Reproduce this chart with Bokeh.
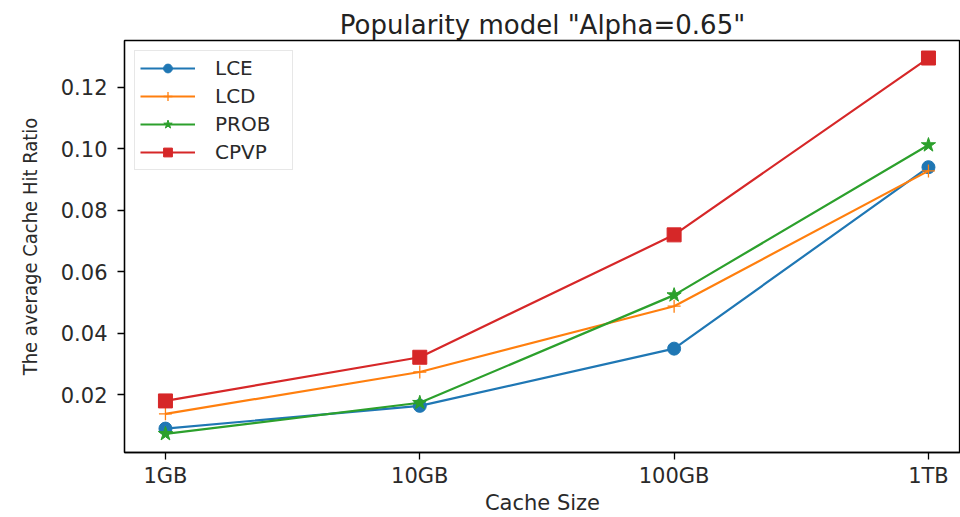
from bokeh.plotting import figure
from bokeh.models import Range1d, FixedTicker, Legend, LegendItem
from bokeh.embed import file_html
from bokeh.resources import INLINE

categories = ["1GB", "10GB", "100GB", "1TB"]
lce = [0.0090, 0.0164, 0.0350, 0.0940]
lcd = [0.0138, 0.0274, 0.0488, 0.0928]
prob = [0.0073, 0.0174, 0.0524, 0.1012]
cpvp = [0.0180, 0.0322, 0.0720, 0.1295]
y_ticks = [0.02, 0.04, 0.06, 0.08, 0.10, 0.12]

xs = list(range(len(categories)))

p = figure(width=960, height=517, output_backend="svg", toolbar_location=None,
           x_range=Range1d(-0.161, 3.126), y_range=Range1d(0.00123, 0.1352),
           min_border_left=124, min_border_right=0, min_border_top=40, min_border_bottom=63)

p.title.text = 'Popularity model "Alpha=0.65"'
p.title.align = "center"
p.title.text_font = "DejaVu Sans"
p.title.text_font_size = "26px"
p.title.text_font_style = "normal"
p.title.text_color = "#222222"
p.title.standoff = 2

p.xgrid.visible = False
p.ygrid.visible = False
p.outline_line_color = "black"
p.outline_line_width = 1.3

p.xaxis.ticker = FixedTicker(ticks=xs)
p.xaxis.major_label_overrides = {i: c for i, c in enumerate(categories)}
p.yaxis.ticker = FixedTicker(ticks=y_ticks)
p.yaxis.major_label_overrides = {t: f"{t:.2f}" for t in y_ticks}
for ax in (p.xaxis[0], p.yaxis[0]):
    ax.minor_tick_line_color = None
    ax.major_tick_in = 0
    ax.major_tick_out = 7
    ax.major_tick_line_width = 1.3
    ax.major_label_text_font = "DejaVu Sans"
    ax.major_label_text_font_size = "21px"
    ax.major_label_text_color = "#2a2a2a"
    ax.axis_line_color = "black"
    ax.axis_line_width = 1.3
    ax.axis_label_text_font_style = "normal"
    ax.axis_label_text_color = "#2a2a2a"
p.yaxis.major_label_standoff = 10
p.xaxis.major_label_standoff = 4

p.xaxis.axis_label = "Cache Size"
p.xaxis.axis_label_text_font = "DejaVu Sans"
p.xaxis.axis_label_text_font_size = "21px"
p.xaxis.axis_label_standoff = 0
p.yaxis.axis_label = "The average Cache Hit Ratio"
p.yaxis.axis_label_text_font = "DejaVu Sans Condensed"
p.yaxis.axis_label_text_font_size = "20px"
p.yaxis.axis_label_standoff = 16

series = [
    ("LCE", lce, "#1f77b4", "circle", 13),
    ("LCD", lcd, "#ff7f0e", "cross", 13),
    ("PROB", prob, "#2ca02c", "star", 15),
    ("CPVP", cpvp, "#d62728", "square", 14),
]
items = []
for name, ys, color, marker, size in series:
    l = p.line(xs, ys, line_color=color, line_width=2.2)
    if marker == "cross":
        s = p.scatter(xs, ys, marker=marker, size=size, line_color=color, line_width=1.3)
    else:
        s = p.scatter(xs, ys, marker=marker, size=size, fill_color=color, line_color=color)
    items.append(LegendItem(label=name, renderers=[l, s]))

legend = Legend(items=items, location="top_left")
legend.label_text_font = "DejaVu Sans"
legend.label_text_font_size = "20px"
legend.label_text_color = "#2a2a2a"
legend.border_line_color = "#d0d0d0"
legend.border_line_width = 1
legend.glyph_width = 55
legend.glyph_height = 22
legend.label_height = 22
legend.label_width = 72
legend.spacing = 4
legend.padding = 5
legend.margin = 10
legend.label_standoff = 20
p.add_layout(legend)

open("out.html", "w").write(file_html(p, INLINE))
